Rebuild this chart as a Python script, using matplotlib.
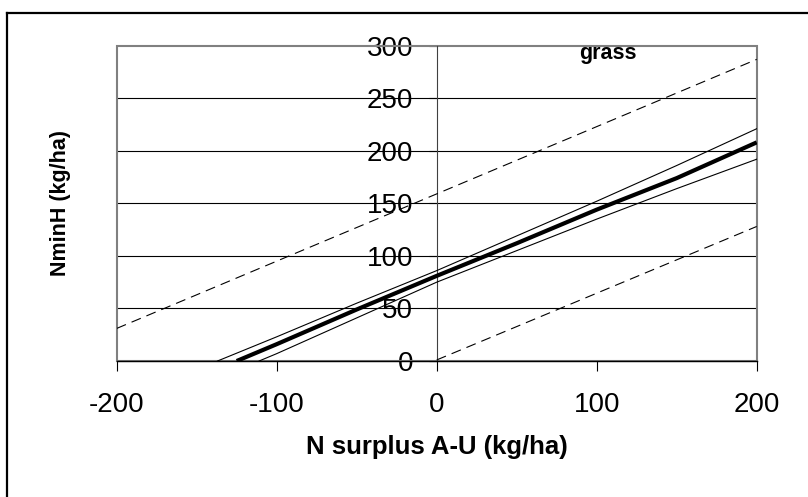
import numpy as np
import matplotlib
matplotlib.use('Agg')
import matplotlib.pyplot as plt
from matplotlib.patches import Rectangle
from matplotlib.lines import Line2D

plt.rcParams['font.family'] = ['Liberation Sans', 'DejaVu Sans']
plt.rcParams['axes.unicode_minus'] = False

# regression line (thick)
mean_x = [-125, -100, -50, 0, 50, 100, 150, 200]
mean_y = [0, 16, 49, 81, 112, 144, 174, 208]
# confidence band (thin)
upper_x = [-137, -100, -50, 0, 50, 100, 150, 200]
upper_y = [0, 23, 55, 86, 119, 152, 186, 221]
lower_x = [-111, -100, -50, 0, 50, 100, 150, 200]
lower_y = [0, 7, 41, 75, 105, 135, 164, 192]
# prediction band (dashed)
pred_hi_x = [-200, 200]
pred_hi_y = [31, 287]
pred_lo_x = [0, 200]
pred_lo_y = [1, 128]

x_ticks = [-200, -100, 0, 100, 200]
y_ticks = [0, 50, 100, 150, 200, 250, 300]

fig = plt.figure(figsize=(8.08, 4.97), dpi=100)
ax = fig.add_axes([116.7/808, 1-361/497, 640/808, 315.3/497])

ax.set_xlim(-200, 200)
ax.set_ylim(0, 300)

for y in y_ticks[1:-1]:
    ax.axhline(y, color='black', lw=0.8, zorder=1)

ax.plot(mean_x, mean_y, color='black', lw=3.0, zorder=3, solid_capstyle='butt')
ax.plot(upper_x, upper_y, color='black', lw=0.8, zorder=3)
ax.plot(lower_x, lower_y, color='black', lw=0.8, zorder=3)
ax.plot(pred_hi_x, pred_hi_y, color='black', lw=0.8, dashes=(9, 5.5), zorder=3)
ax.plot(pred_lo_x, pred_lo_y, color='black', lw=0.8, dashes=(9, 5.5), zorder=3)

# gray plot border
ax.add_patch(Rectangle((0, 0), 1, 1, transform=ax.transAxes, fill=False,
                       edgecolor='#808080', lw=1.5, zorder=2, clip_on=False))

ax.spines['top'].set_visible(False)
ax.spines['right'].set_visible(False)
ax.spines['left'].set_position(('data', 0))
ax.spines['left'].set_color('#404040')
ax.spines['left'].set_linewidth(0.8)
ax.spines['bottom'].set_color('black')
ax.spines['bottom'].set_linewidth(1.0)
ax.spines['left'].set_zorder(2.5)
ax.spines['bottom'].set_zorder(2.5)

ax.set_xticks(x_ticks)
ax.set_yticks(y_ticks)
ax.tick_params(axis='x', direction='out', length=7, width=0.8, pad=15, labelsize=20)
ax.tick_params(axis='y', direction='out', length=6, width=0.8, pad=11, labelsize=20)

ax.set_xlabel('N surplus A-U (kg/ha)', fontsize=18.5, fontweight='bold', va='center')
ax.xaxis.set_label_coords(0.5, (361-446.7)/315.3)
ax.set_ylabel('NminH (kg/ha)', fontsize=15.5, fontweight='bold', va='center')
ax.yaxis.set_label_coords((60-116.7)/640, 0.5)

ax.text((608-116.7)/640, (361-54)/315.3, 'grass', transform=ax.transAxes,
        ha='center', va='center', fontsize=15.5, fontweight='bold')

# outer chart border (left and top edges visible)
fig.add_artist(Line2D([7/808, 7/808], [0, 1-13/497], color='black', lw=1.6,
                      transform=fig.transFigure))
fig.add_artist(Line2D([7/808, 1], [1-13/497, 1-13/497], color='black', lw=1.6,
                      transform=fig.transFigure))

plt.savefig('out.png', dpi=100)
